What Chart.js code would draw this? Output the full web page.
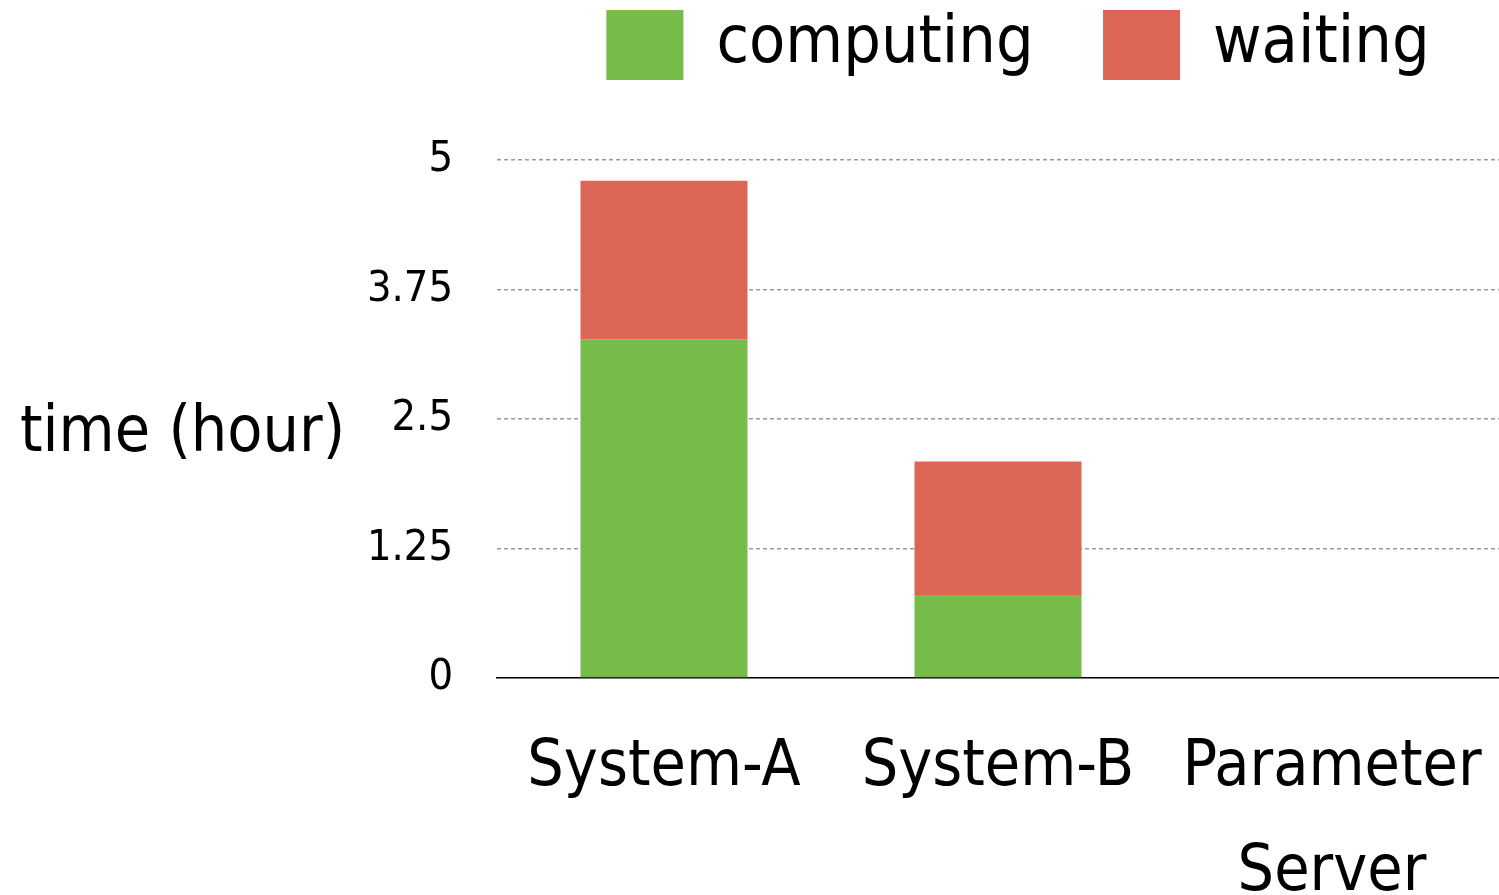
<!DOCTYPE html>
<html>
<head>
<meta charset="utf-8">
<script src="https://cdn.jsdelivr.net/npm/chart.js@4/dist/chart.umd.min.js"></script>
<style>
  html, body { margin: 0; padding: 0; background: #ffffff; }
  #wrap { width: 1499px; height: 895px; position: relative; }
</style>
</head>
<body>
<div id="wrap"><canvas id="c" width="1499" height="895"></canvas></div>
<script>
// Time breakdown per system (hours)
const categories = ['System-A', 'System-B', ['Parameter', 'Server']];
const computingHours = [3.27, 0.80, 0];
const waitingHours = [1.53, 1.29, 0];
const yTickValues = [0, 1.25, 2.5, 3.75, 5];
const yAxisTitle = 'time (hour)';

const FONT = "'DejaVu Sans Condensed', 'Liberation Sans Narrow', sans-serif";
Chart.defaults.font.family = FONT;
Chart.defaults.color = '#000000';

// Horizontal y-axis title drawn to the left of the tick labels
const sideTitle = {
  id: 'sideTitle',
  afterDraw(chart) {
    const ctx = chart.ctx;
    const area = chart.chartArea;
    ctx.save();
    ctx.font = '64px ' + FONT;
    ctx.fillStyle = '#000000';
    ctx.textAlign = 'left';
    ctx.textBaseline = 'alphabetic';
    ctx.fillText(yAxisTitle, 20, (area.top + area.bottom) / 2 + 32);
    ctx.restore();
  }
};

// Reserve a fixed band above the plot for the legend
const legendBand = {
  id: 'legendBand',
  beforeLayout(chart) {
    const legend = chart.legend;
    if (legend && !legend._bandPatched) {
      const fit = legend.fit.bind(legend);
      legend.fit = function () { fit(); this.height = 160; };
      legend._bandPatched = true;
    }
  }
};

const legendGap = '\u2003';

new Chart(document.getElementById('c'), {
  type: 'bar',
  data: {
    labels: categories,
    datasets: [
      { label: 'computing', data: computingHours, backgroundColor: '#77bb4b' },
      { label: 'waiting', data: waitingHours, backgroundColor: '#dc6655' }
    ]
  },
  options: {
    responsive: false,
    animation: false,
    layout: { padding: 0 },
    datasets: { bar: { categoryPercentage: 1.0, barPercentage: 0.5 } },
    plugins: {
      tooltip: { enabled: false },
      legend: {
        position: 'top',
        align: 'end',
        labels: {
          boxWidth: 77,
          boxHeight: 70,
          padding: 10,
          font: { size: 66 },
          color: '#000000',
          generateLabels(chart) {
            const items = Chart.defaults.plugins.legend.labels.generateLabels(chart);
            items.forEach(it => { it.text = it.text + legendGap; it.lineWidth = 0; });
            return items;
          }
        }
      }
    },
    scales: {
      x: {
        stacked: true,
        grid: { display: false, drawTicks: false },
        border: { display: true, color: '#000000', width: 1.5 },
        ticks: {
          padding: 38,
          font: { size: 64, lineHeight: 1.64 },
          color: '#000000',
          maxRotation: 0,
          autoSkip: false
        },
        afterFit(scale) {
          scale.height = 217;
          scale.paddingLeft = 0;
          scale.paddingRight = 0;
        }
      },
      y: {
        stacked: true,
        min: 0,
        max: 5,
        afterBuildTicks(scale) { scale.ticks = yTickValues.map(v => ({ value: v })); },
        grid: {
          drawTicks: false,
          color: ctx => (ctx.tick && ctx.tick.value === 0) ? 'rgba(0,0,0,0)' : '#9a9a9a',
          lineWidth: 1.5
        },
        border: { display: false, dash: [4, 3] },
        ticks: {
          padding: 44,
          font: { size: 43 },
          color: '#000000',
          callback: v => String(v)
        },
        afterFit(scale) { scale.width = 497; }
      }
    }
  },
  plugins: [legendBand, sideTitle]
});
</script>
</body>
</html>
